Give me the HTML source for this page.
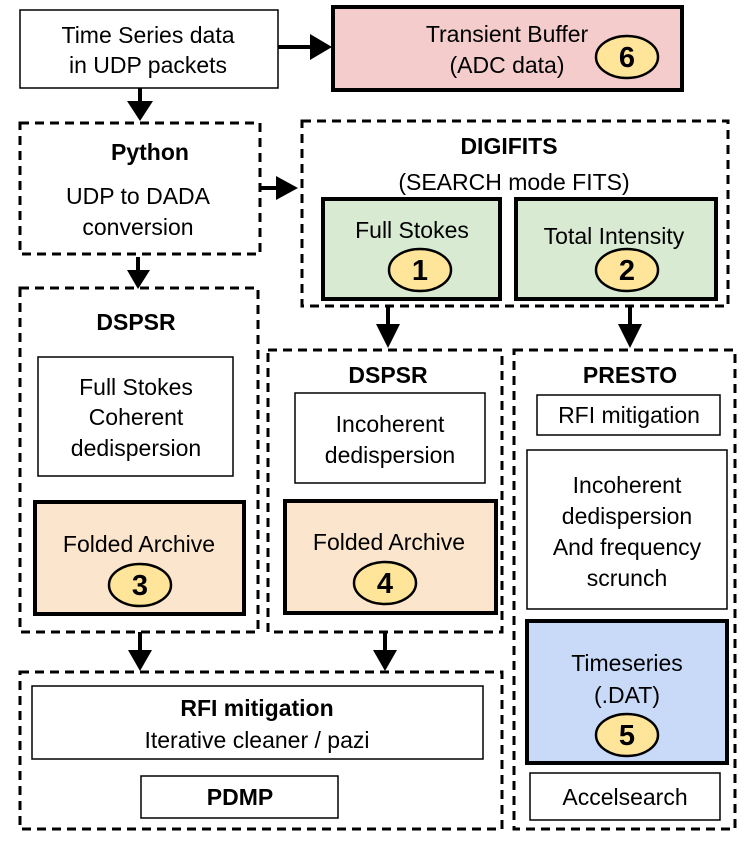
<!DOCTYPE html>
<html><head><style>body{margin:0;background:#fff}svg{display:block}text{font-family:"Liberation Sans",sans-serif;font-size:23px;text-anchor:middle;fill:#000}.b{font-weight:bold}.n{font-weight:bold;font-size:29px}</style></head><body>
<svg width="747" height="841" viewBox="0 0 747 841" xmlns="http://www.w3.org/2000/svg">
<g fill="none" stroke="#000">
<rect x="20" y="10" width="258" height="78" stroke-width="1.5"/>
<g stroke-width="3" stroke-dasharray="9,6">
<rect x="20" y="123" width="240" height="131"/>
<rect x="302" y="121" width="426" height="185"/>
<rect x="20" y="288" width="238" height="344"/>
<rect x="268" y="350" width="234" height="282"/>
<rect x="514" y="350" width="221" height="479"/>
<rect x="20" y="672" width="482" height="157"/>
</g>
<g stroke-width="1.5">
<rect x="38" y="357" width="195" height="119"/>
<rect x="295" y="393" width="190" height="90"/>
<rect x="537" y="395" width="183" height="40"/>
<rect x="527" y="450" width="200" height="159"/>
<rect x="530" y="773" width="190" height="47"/>
<rect x="32" y="686" width="451" height="73"/>
<rect x="141" y="776" width="197" height="42"/>
</g>
</g>
<g stroke="#000" stroke-width="4">
<rect x="333" y="7" width="349" height="83" fill="#f4cccc"/>
<rect x="323" y="199" width="177" height="100" fill="#d9ead3"/>
<rect x="516" y="199" width="200" height="100" fill="#d9ead3"/>
<rect x="35" y="502" width="209" height="112" fill="#fce5cd"/>
<rect x="285" y="501" width="211" height="112" fill="#fce5cd"/>
<rect x="527" y="621" width="200" height="142" fill="#c9daf8"/>
</g>
<g fill="#ffe599" stroke="#000" stroke-width="2.5">
<ellipse cx="627" cy="57" rx="31" ry="21"/>
<ellipse cx="420" cy="270" rx="31" ry="21"/>
<ellipse cx="627" cy="270" rx="31" ry="21"/>
<ellipse cx="140" cy="585" rx="31" ry="21"/>
<ellipse cx="385" cy="583" rx="31" ry="21"/>
<ellipse cx="627" cy="735" rx="31" ry="21"/>
</g>
<g stroke="#000" stroke-width="4">
<line x1="278" y1="47" x2="312" y2="47"/>
<line x1="140" y1="88" x2="140" y2="104"/>
<line x1="260" y1="188" x2="278" y2="188"/>
<line x1="138" y1="257" x2="138" y2="272"/>
<line x1="388" y1="306" x2="388" y2="326"/>
<line x1="630" y1="306" x2="630" y2="326"/>
<line x1="140" y1="632" x2="140" y2="652"/>
<line x1="385" y1="632" x2="385" y2="652"/>
</g>
<g fill="#000">
<polygon points="310,34 332,47 310,60"/>
<polygon points="127,101 153,101 140,121"/>
<polygon points="276,176 298,188 276,200"/>
<polygon points="127,270 150,270 138,289"/>
<polygon points="376,324 400,324 388,348"/>
<polygon points="618,324 642,324 630,348"/>
<polygon points="128,650 152,650 140,671"/>
<polygon points="373,650 397,650 385,671"/>
</g>
<text x="148" y="43">Time Series data</text>
<text x="148" y="73">in UDP packets</text>
<text x="507" y="42">Transient Buffer</text>
<text x="507" y="73">(ADC data)</text>
<text class="b" x="150" y="160">Python</text>
<text x="138" y="204">UDP to DADA</text>
<text x="138" y="235">conversion</text>
<text class="b" x="509" y="154">DIGIFITS</text>
<text x="514" y="190">(SEARCH mode FITS)</text>
<text x="412" y="238">Full Stokes</text>
<text x="614" y="244">Total Intensity</text>
<text class="b" x="136" y="330">DSPSR</text>
<text x="136" y="395">Full Stokes</text>
<text x="136" y="425">Coherent</text>
<text x="136" y="456">dedispersion</text>
<text x="139" y="552">Folded Archive</text>
<text class="b" x="388" y="383">DSPSR</text>
<text x="390" y="432">Incoherent</text>
<text x="390" y="463">dedispersion</text>
<text x="389" y="550">Folded Archive</text>
<text class="b" x="630" y="383">PRESTO</text>
<text x="629" y="423">RFI mitigation</text>
<text x="627" y="493">Incoherent</text>
<text x="627" y="524">dedispersion</text>
<text x="627" y="555">And frequency</text>
<text x="627" y="586">scrunch</text>
<text x="627" y="671">Timeseries</text>
<text x="627" y="703">(.DAT)</text>
<text x="625" y="805">Accelsearch</text>
<text class="b" x="257" y="716">RFI mitigation</text>
<text x="257" y="748">Iterative cleaner / pazi</text>
<text class="b" x="240" y="805">PDMP</text>
<text class="n" x="627" y="67">6</text>
<text class="n" x="420" y="280">1</text>
<text class="n" x="627" y="280">2</text>
<text class="n" x="140" y="595">3</text>
<text class="n" x="385" y="593">4</text>
<text class="n" x="627" y="745">5</text>
</svg>
</body></html>
